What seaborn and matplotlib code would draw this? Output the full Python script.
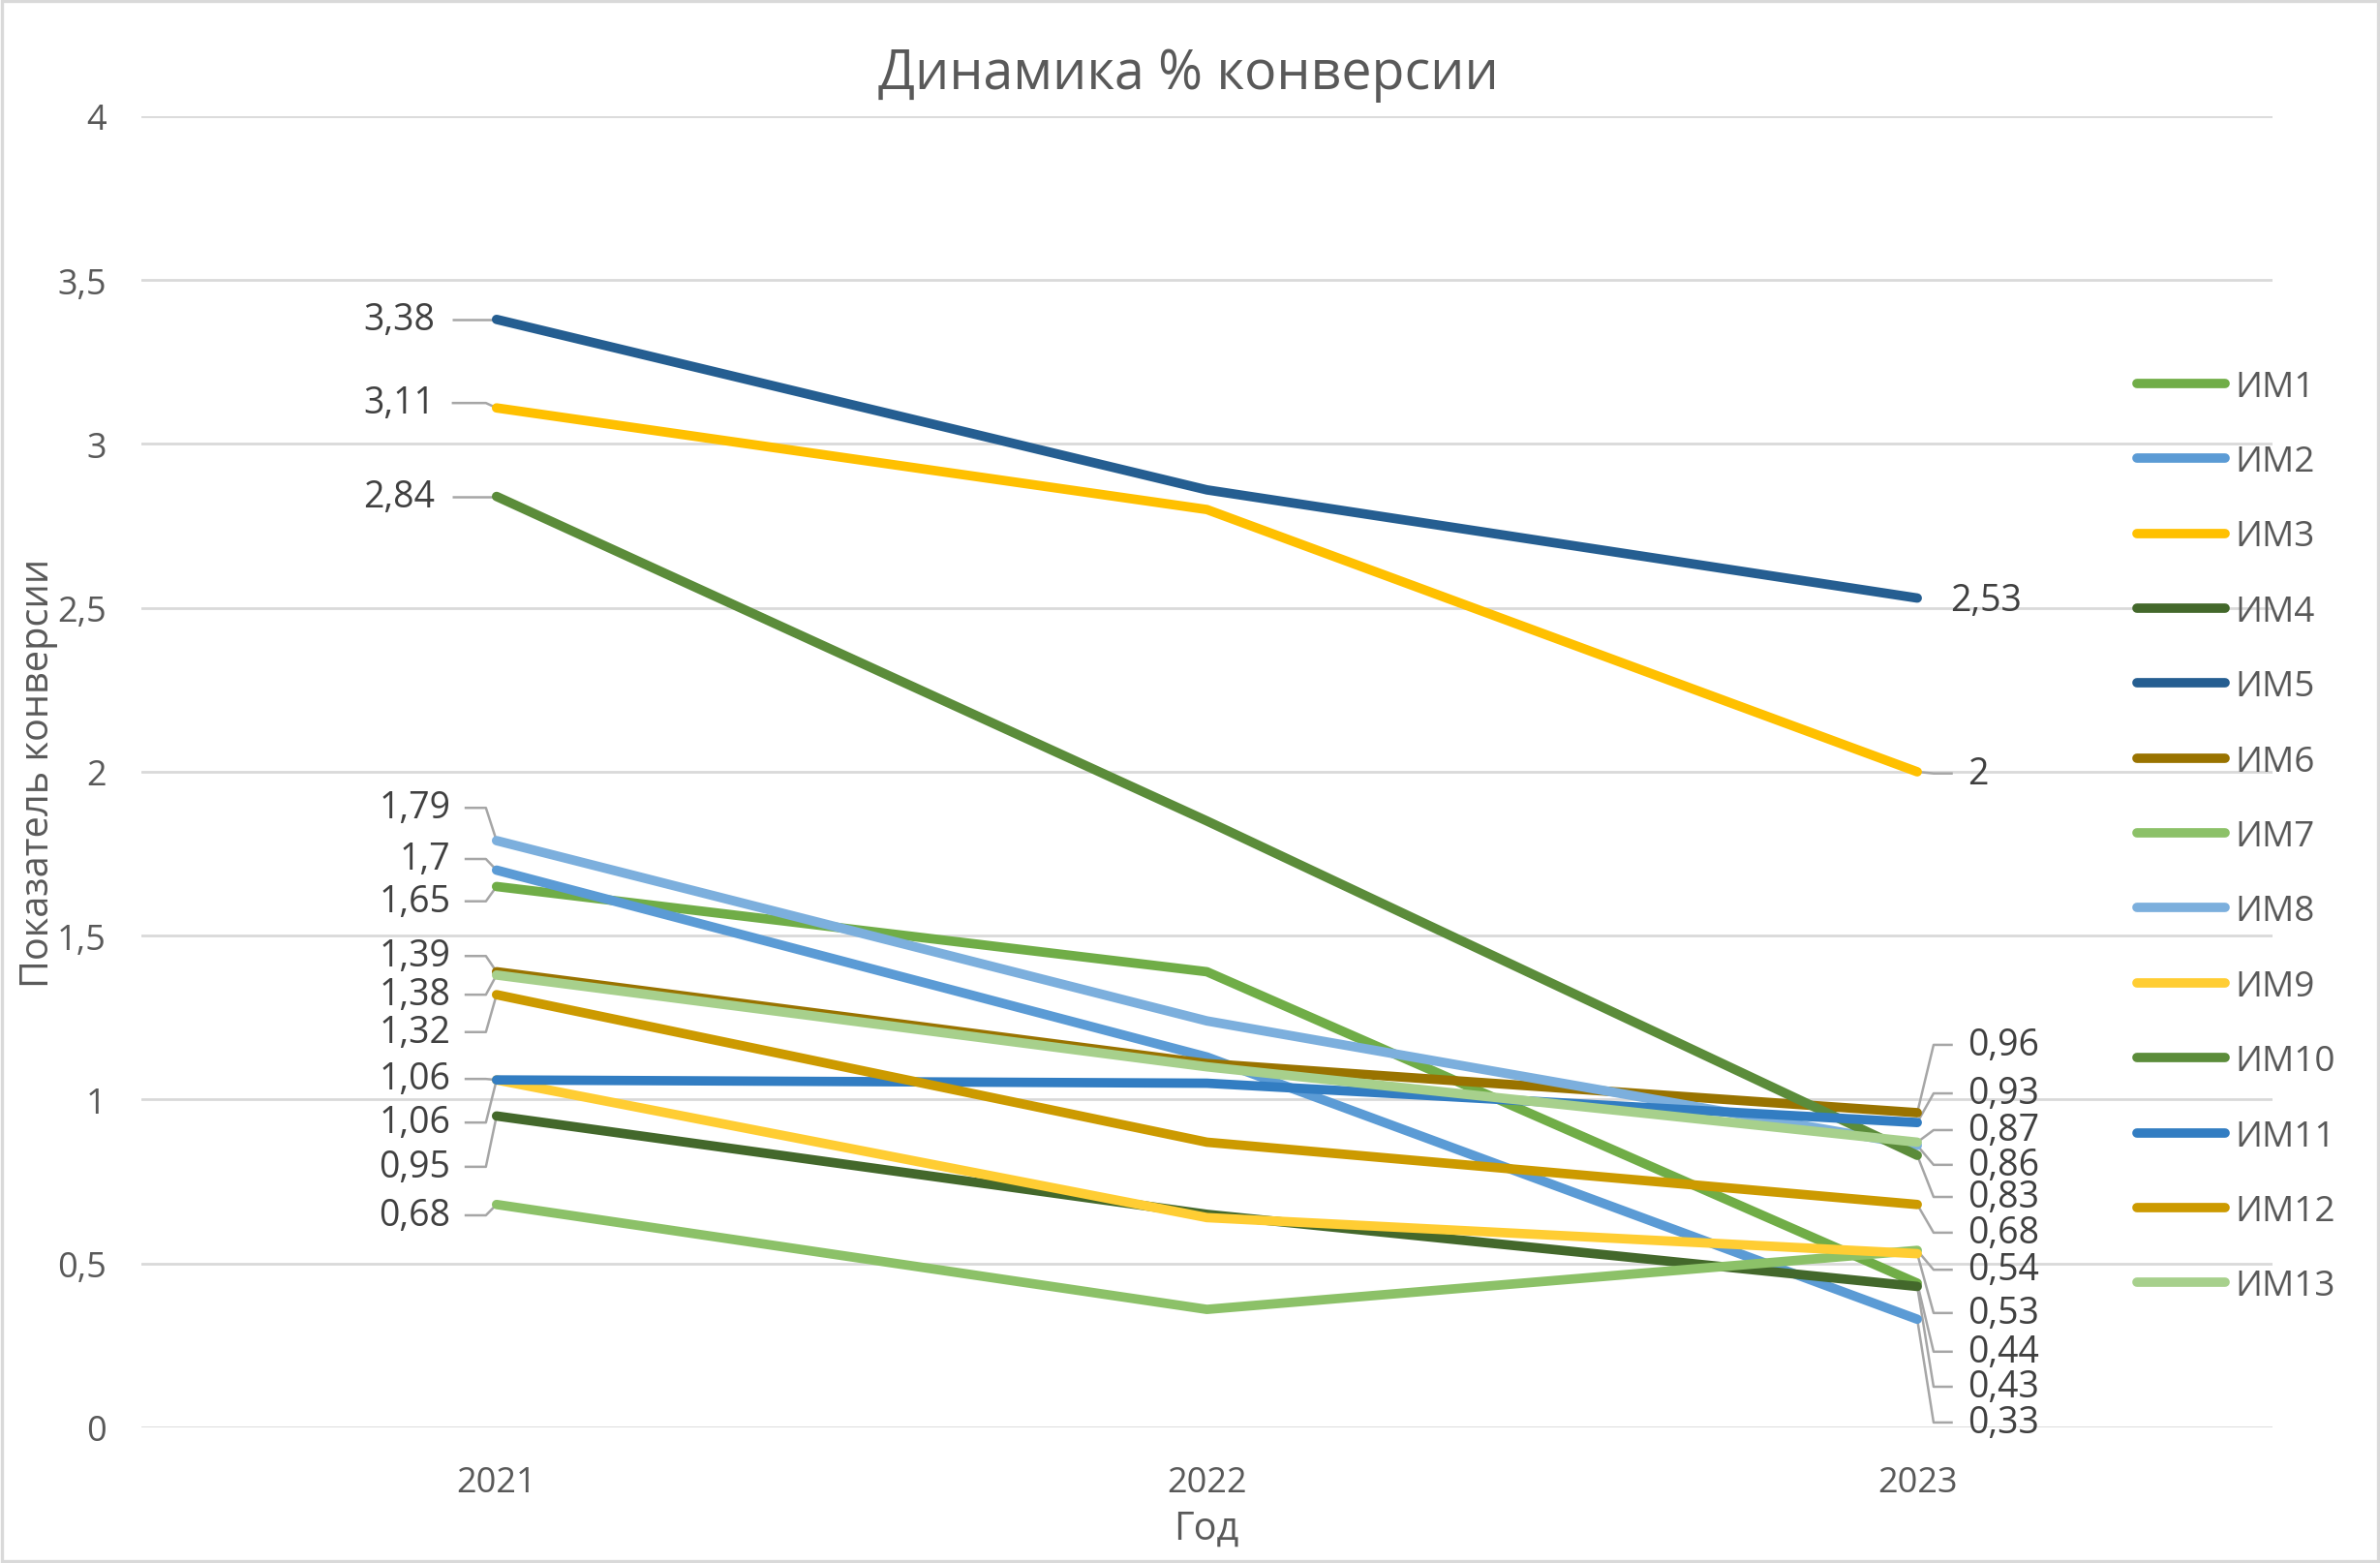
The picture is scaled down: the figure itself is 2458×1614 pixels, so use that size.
import matplotlib
matplotlib.use("Agg")
import matplotlib.pyplot as plt
import seaborn as sns
import pandas as pd
from matplotlib.patches import Rectangle

# ---------------- data ----------------
years = ["2021", "2022", "2023"]
series = ["ИМ1", "ИМ2", "ИМ3", "ИМ4", "ИМ5", "ИМ6", "ИМ7",
          "ИМ8", "ИМ9", "ИМ10", "ИМ11", "ИМ12", "ИМ13"]
v2021 = [1.65, 1.70, 3.11, 0.95, 3.38, 1.39, 0.68, 1.79, 1.06, 2.84, 1.06, 1.32, 1.38]
v2022 = [1.39, 1.13, 2.80, 0.65, 2.86, 1.11, 0.36, 1.24, 0.64, 1.85, 1.05, 0.87, 1.10]
v2023 = [0.44, 0.33, 2.00, 0.43, 2.53, 0.96, 0.54, 0.86, 0.53, 0.83, 0.93, 0.68, 0.87]
colors = ["#70AD47", "#5B9BD5", "#FFC000", "#43682B", "#255E91", "#997300", "#8CC168",
          "#7CAFDD", "#FFCD33", "#5B8C3A", "#327DC2", "#CC9A00", "#A7D08C"]
yticks = [0, 0.5, 1, 1.5, 2, 2.5, 3, 3.5, 4]

title = "Динамика % конверсии"
xlabel = "Год"
ylabel = "Показатель конверсии"

# label layout (vertical placement of the callout labels, in axis units)
lab21_y = [1.605, 1.734, 3.125, 0.795, 3.38, 1.438, 0.647, 1.890, 0.930, 2.84, 1.063, 1.206, 1.320]
lab23_y = [0.231, 0.015, 1.995, 0.124, 2.523, 1.167, 0.481, 0.801, 0.349, 0.703, 1.019, 0.594, 0.907]

# ---------------- style ----------------
sns.set_theme(style="white")
plt.rcParams["font.family"] = ["Open Sans", "DejaVu Sans"]
TXT = "#595959"
LAB = "#404040"
GRID = "#D9D9D9"
LEAD = "#A6A6A6"

rows = []
for s, a, b, c in zip(series, v2021, v2022, v2023):
    for xi, v in enumerate((a, b, c)):
        rows.append({"x": xi, "y": v, "series": s})
df = pd.DataFrame(rows)

fig = plt.figure(figsize=(12.29, 8.075), dpi=200)
fig.patch.set_facecolor("white")
ax = fig.add_axes([0.0594, 0.0867, 0.8954, 0.8384])

for yt in yticks:
    ax.axhline(yt, color=GRID, lw=1.0, zorder=0)

sns.lineplot(data=df, x="x", y="y", hue="series", hue_order=series,
             palette=colors, linewidth=3.5, ax=ax, sort=False, zorder=3)
for ln in ax.lines:
    ln.set_solid_capstyle("round")
    ln.set_solid_joinstyle("round")

ax.set_xlim(-0.5, 2.5)
ax.set_ylim(0, 4)
ax.set_xticks([0, 1, 2])
ax.set_xticklabels(years)
ax.set_yticks(yticks)
ax.set_yticklabels([f"{t:g}".replace(".", ",") for t in yticks])
ax.tick_params(axis="both", length=0, labelsize=13, colors=TXT)
ax.tick_params(axis="y", pad=13)
ax.tick_params(axis="x", pad=14)
for sp in ax.spines.values():
    sp.set_visible(False)
ax.set_xlabel("")
ax.set_ylabel("")

def fmt(v):
    return f"{v:g}".replace(".", ",")

LFS = 13.5
# 2021 labels
for i, (v, ly) in enumerate(zip(v2021, lab21_y)):
    if v > 2.5:
        tx, lx0, lx1 = -0.087, -0.063, -0.015
    else:
        tx, lx0, lx1 = -0.065, -0.045, -0.015
    ax.plot([lx0, lx1, 0], [ly, ly, v], color=LEAD, lw=0.9, zorder=2,
            solid_capstyle="butt", clip_on=False)
    ax.text(tx, ly, fmt(v), ha="right", va="center", fontsize=LFS, color=LAB)

# 2023 labels
for i, (v, ly) in enumerate(zip(v2023, lab23_y)):
    if v > 2.2:
        ax.text(2.046, ly, fmt(v), ha="left", va="center", fontsize=LFS, color=LAB)
        continue
    ax.plot([2, 2.023, 2.050], [v, ly, ly], color=LEAD, lw=0.9, zorder=2,
            solid_capstyle="butt", clip_on=False)
    ax.text(2.071, ly, fmt(v), ha="left", va="center", fontsize=LFS, color=LAB)

# legend
handles, labels = ax.get_legend_handles_labels()
if ax.get_legend() is not None:
    ax.get_legend().remove()
leg = fig.legend(handles, labels, loc="center left", bbox_to_anchor=(0.8979, 0.4644),
                 frameon=False, fontsize=13.3, handlelength=2.45, handletextpad=0.28,
                 labelspacing=1.12, borderpad=0, borderaxespad=0, labelcolor=TXT)
for hl in leg.get_lines():
    hl.set_linewidth(3.5)
    hl.set_solid_capstyle("round")

fig.text(0.4993, 0.952, title, ha="center", va="center", fontsize=20, color=TXT)
fig.text(0.507, 0.0217, xlabel, ha="center", va="center", fontsize=14.3, color=TXT)
fig.text(0.016, 0.5059, ylabel, ha="center", va="center", rotation=90, fontsize=14.3, color=TXT)

fig.patches.append(Rectangle((0.0008, 0.0012), 0.9984, 0.9976, transform=fig.transFigure,
                             fill=False, edgecolor=GRID, lw=1.2))

fig.savefig("out.png", dpi=200, facecolor="white")
